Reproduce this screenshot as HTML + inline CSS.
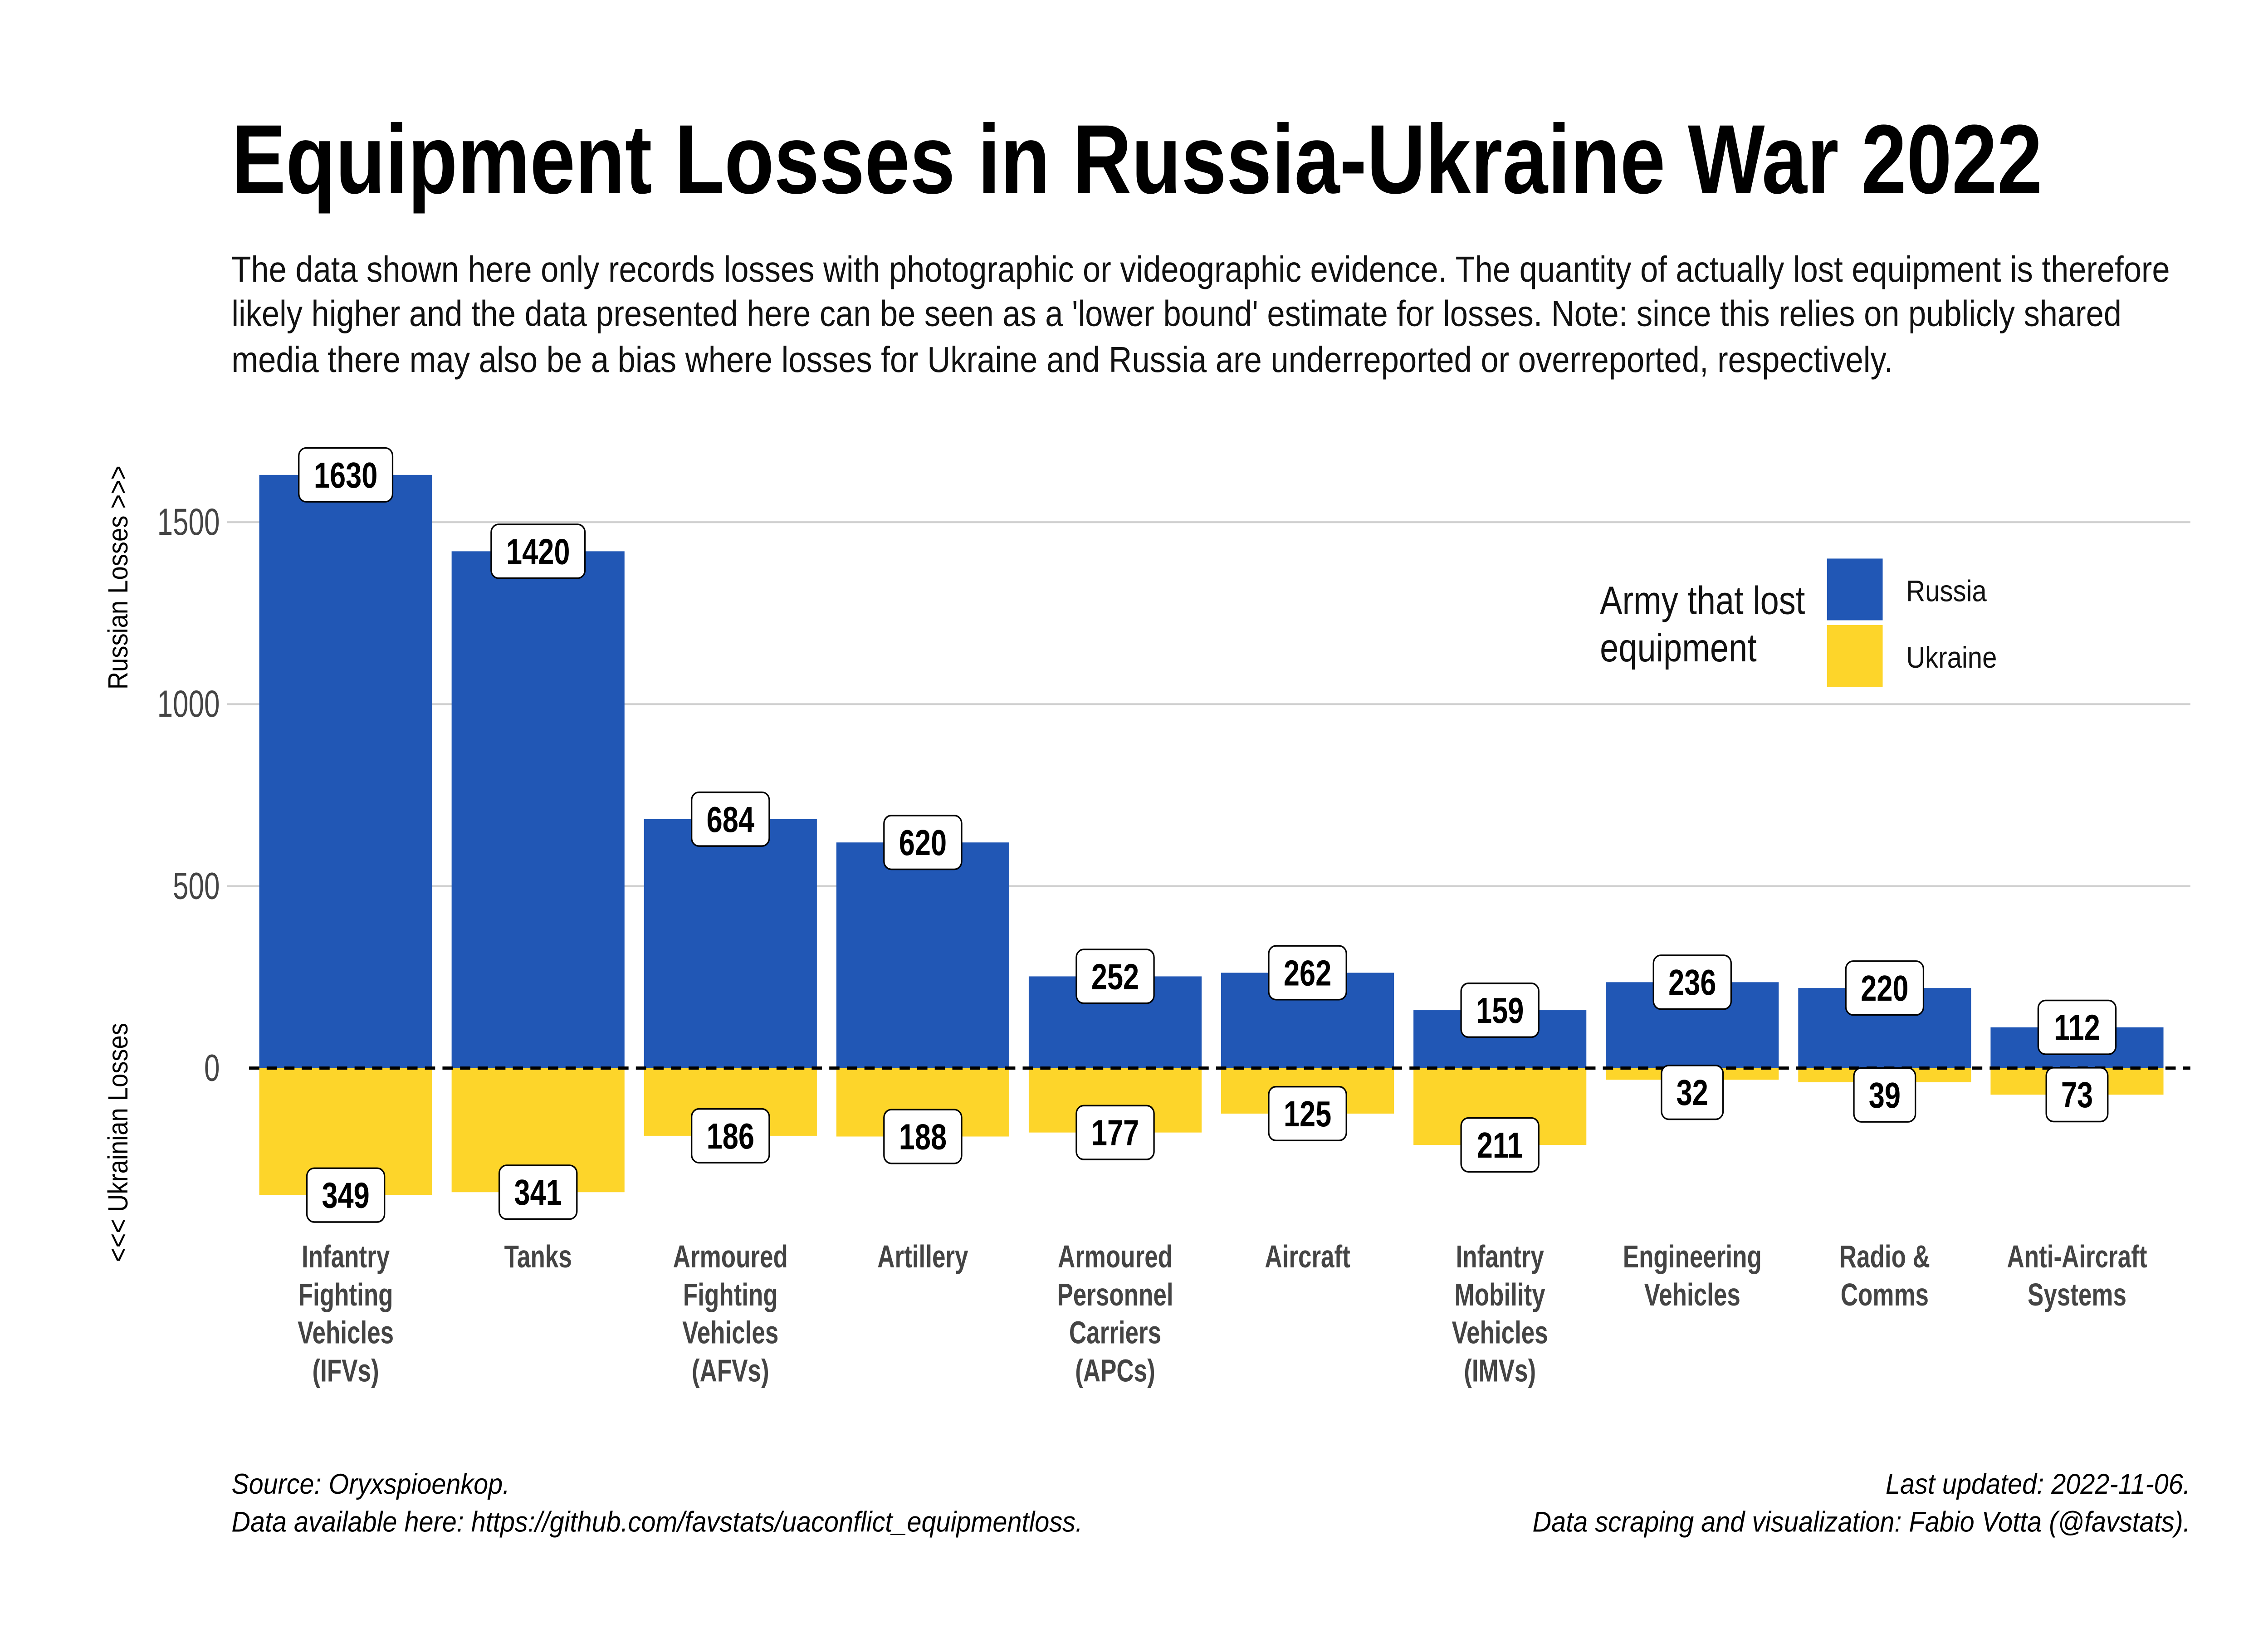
<!DOCTYPE html>
<html><head><meta charset="utf-8">
<style>
html,body{margin:0;padding:0;background:#fff;width:100%;height:100%;overflow:hidden;}
svg{display:block;width:100vw;height:100vh;}
text{font-family:"Liberation Sans Narrow","Liberation Sans",sans-serif;}
</style></head>
<body>
<svg id="chart" viewBox="0 0 1548 1032" preserveAspectRatio="none" xmlns="http://www.w3.org/2000/svg">
<rect width="1548" height="1032" fill="#fff"/>
<text x="158" y="122" font-size="62" font-weight="bold" fill="#000" textLength="1236" lengthAdjust="spacingAndGlyphs">Equipment Losses in Russia-Ukraine War 2022</text>
<g font-size="23" fill="#111">
<text x="158" y="178" textLength="1323" lengthAdjust="spacingAndGlyphs">The data shown here only records losses with photographic or videographic evidence. The quantity of actually lost equipment is therefore</text>
<text x="158" y="206" textLength="1290" lengthAdjust="spacingAndGlyphs">likely higher and the data presented here can be seen as a 'lower bound' estimate for losses. Note: since this relies on publicly shared</text>
<text x="158" y="235" textLength="1134" lengthAdjust="spacingAndGlyphs">media there may also be a bias where losses for Ukraine and Russia are underreported or overreported, respectively.</text>
</g>
<g id="grid"></g>
<g id="yticks"></g>
<text font-size="19" fill="#000" text-anchor="middle" transform="translate(87,365) rotate(-90) scale(0.82,1)">Russian Losses &gt;&gt;&gt;</text>
<text font-size="19" fill="#000" text-anchor="middle" transform="translate(87,722) rotate(-90) scale(0.82,1)">&lt;&lt;&lt; Ukrainian Losses</text>
<g id="bars"></g>
<line id="zero" stroke="#000" stroke-width="2" stroke-dasharray="7,5"/>
<g id="labels"></g>
<g id="xlabels"></g>
<g>
<text x="1092" y="388" font-size="25" fill="#111" textLength="140" lengthAdjust="spacingAndGlyphs">Army that lost</text>
<text x="1092" y="418" font-size="25" fill="#111" textLength="107" lengthAdjust="spacingAndGlyphs">equipment</text>
<rect x="1247" y="353" width="38" height="39" fill="#2157b5"/>
<rect x="1247" y="395" width="38" height="39" fill="#fdd52a"/>
<text x="1301" y="380" font-size="19" fill="#111" textLength="55" lengthAdjust="spacingAndGlyphs">Russia</text>
<text x="1301" y="422" font-size="19" fill="#111" textLength="62" lengthAdjust="spacingAndGlyphs">Ukraine</text>
</g>
<g font-size="18" font-style="italic" fill="#000">
<text x="158" y="944" textLength="190" lengthAdjust="spacingAndGlyphs">Source: Oryxspioenkop.</text>
<text x="158" y="968" textLength="581" lengthAdjust="spacingAndGlyphs">Data available here: https://github.com/favstats/uaconflict_equipmentloss.</text>
<text x="1287" y="944" textLength="208" lengthAdjust="spacingAndGlyphs">Last updated: 2022-11-06.</text>
<text x="1046" y="968" textLength="449" lengthAdjust="spacingAndGlyphs">Data scraping and visualization: Fabio Votta (@favstats).</text>
</g>
</svg>
<script>
const categories = [["Infantry","Fighting","Vehicles","(IFVs)"],["Tanks"],["Armoured","Fighting","Vehicles","(AFVs)"],["Artillery"],["Armoured","Personnel","Carriers","(APCs)"],["Aircraft"],["Infantry","Mobility","Vehicles","(IMVs)"],["Engineering","Vehicles"],["Radio &","Comms"],["Anti-Aircraft","Systems"]];
const russiaLosses = [1630,1420,684,620,252,262,159,236,220,112];
const ukraineLosses = [349,341,186,188,177,125,211,32,39,73];
const yTicks = [0,500,1000,1500];

const NS="http://www.w3.org/2000/svg";
const plotLeft=170.3, plotRight=1483.3, step=(plotRight-plotLeft)/categories.length, barW=118;
function y(v){return 675 - v*0.23;}
function xc(i){return plotLeft + step*(i+0.5);}
function mk(tag,attrs,parent){const e=document.createElementNS(NS,tag);for(const k in attrs)e.setAttribute(k,attrs[k]);parent.appendChild(e);return e;}

const grid=document.getElementById('grid'), yt=document.getElementById('yticks');
yTicks.forEach(t=>{
  if(t!==0){const l=mk('line',{x1:155,x2:1495,y1:y(t),y2:y(t),stroke:'#d0d0d0','stroke-width':1.2},grid);
  
  }
  const tx=mk('text',{x:0,y:0,'text-anchor':'end','font-size':24,fill:'#444',transform:'translate(150,'+(y(t)+8)+') scale(0.8,1)'},yt);
  tx.textContent=t;
  
  
});
const z=document.getElementById('zero');
z.setAttribute('x1',170);z.setAttribute('x2',1495);z.setAttribute('y1',y(0));z.setAttribute('y2',y(0));

const bars=document.getElementById('bars'), labs=document.getElementById('labels'), xl=document.getElementById('xlabels');
function label(cx,cy,v,name){
  const g=mk('g',{},labs);
  
  
  const s=String(v), w=s.length*11+20;
  mk('rect',{x:cx-w/2,y:cy-17,width:w,height:34,rx:5,fill:'#fff',stroke:'#000','stroke-width':1},g);
  const t=mk('text',{x:0,y:0,'text-anchor':'middle','font-size':23,'font-weight':'bold',fill:'#000',transform:'translate('+cx+','+(cy+8)+') scale(0.85,1)'},g);
  t.textContent=s;
}
categories.forEach((c,i)=>{
  const cx=xc(i);
  const r=mk('rect',{x:cx-barW/2,y:y(russiaLosses[i]),width:barW,height:y(0)-y(russiaLosses[i]),fill:'#2157b5'},bars);
  
  
  const u=mk('rect',{x:cx-barW/2,y:y(0),width:barW,height:y(-ukraineLosses[i])-y(0),fill:'#fdd52a'},bars);
  
  
  label(cx,y(russiaLosses[i]),russiaLosses[i],'value-label-russia');
  label(cx,y(-ukraineLosses[i])+8*(ukraineLosses[i]<50?1:0),ukraineLosses[i],'value-label-ukraine');
  const t=mk('text',{'text-anchor':'middle','font-size':20,'font-weight':'bold',fill:'#444',transform:'translate('+cx+',0) scale(0.82,1)'},xl);
  
  
  c.forEach((line,j)=>{const ts=mk('tspan',{x:0,y:801+j*24},t);ts.textContent=line;});
});
</script>
</body></html>
